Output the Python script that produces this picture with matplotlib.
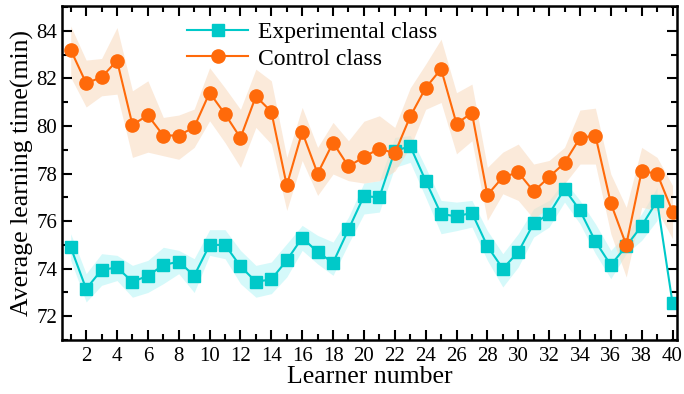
import numpy as np
import matplotlib.pyplot as plt
from matplotlib.ticker import MultipleLocator

plt.rcParams['font.family'] = ['Liberation Serif', 'DejaVu Serif']

# learner numbers 1..40
learners = np.arange(1, 41)

# experimental class: mean and band
exp_mean = [74.9, 73.15, 73.95, 74.05, 73.45, 73.7, 74.15, 74.3, 73.7, 75.0,
            75.0, 74.1, 73.45, 73.55, 74.35, 75.3, 74.7, 74.25, 75.65, 77.05,
            77.0, 78.95, 79.15, 77.7, 76.3, 76.2, 76.35, 74.95, 74.0, 74.7,
            75.9, 76.3, 77.35, 76.45, 75.15, 74.15, 74.95, 75.8, 76.85, 72.55]
exp_upper = [75.47, 73.79, 74.63, 74.56, 74.14, 74.35, 74.9, 74.77, 74.42, 75.64,
             75.64, 74.77, 74.14, 74.28, 75.05, 75.82, 75.4, 75.12, 76.17, 77.6,
             77.7, 79.52, 79.6, 78.26, 76.87, 76.8, 76.87, 75.6, 74.63, 75.47,
             76.52, 76.87, 77.7, 76.87, 75.89, 74.77, 75.47, 76.31, 77.42]
exp_lower = [74.35, 72.6, 73.3, 73.5, 72.8, 73.0, 73.37, 73.79, 73.0, 74.56,
             74.42, 73.37, 72.8, 72.95, 73.65, 74.77, 74.2, 73.72, 75.05, 76.3,
             76.38, 78.26, 78.47, 77.0, 75.47, 75.6, 75.75, 74.35, 73.23, 74.07,
             75.33, 75.75, 76.8, 75.89, 74.63, 73.58, 74.63, 75.19, 76.03]

# control class: mean and band
ctl_mean = [83.2, 81.8, 82.05, 82.75, 80.05, 80.45, 79.6, 79.6, 79.95, 81.4,
            80.5, 79.5, 81.25, 80.6, 77.5, 79.75, 78.0, 79.3, 78.3, 78.7,
            79.05, 78.85, 80.4, 81.6, 82.4, 80.1, 80.55, 77.1, 77.85, 78.05,
            77.25, 77.85, 78.45, 79.5, 79.6, 76.75, 75.0, 78.1, 78.0, 76.4]
ctl_upper = [84.2, 82.77, 82.84, 84.14, 81.48, 81.9, 80.36, 80.46, 80.71, 82.45,
             81.6, 80.7, 82.39, 81.9, 78.68, 80.78, 79.1, 80.15, 79.38, 80.2,
             80.43, 79.94, 81.6, 82.6, 83.65, 81.4, 81.76, 78.26, 78.9, 79.24,
             78.4, 78.55, 79.1, 80.67, 80.75, 77.98, 76.58, 79.1, 78.68, 77.5]
ctl_lower = [82.05, 80.8, 81.27, 81.34, 78.68, 78.9, 78.75, 78.6, 79.1, 80.22,
             79.3, 78.26, 79.94, 79.24, 76.45, 78.55, 77.08, 77.98, 77.7, 77.6,
             77.7, 78.1, 79.1, 80.7, 80.99, 78.83, 79.38, 76.03, 77.15, 76.87,
             76.1, 76.58, 77.57, 78.4, 78.4, 75.47, 73.65, 76.58, 76.45, 75.26]

cyan = '#00C9C9'
orange = '#FF6A0A'

fig = plt.figure(figsize=(6.84, 3.94), dpi=100)
ax = fig.add_axes([0.091, 0.137, 0.899, 0.848])

ax.fill_between(learners[:len(exp_upper)], exp_lower, exp_upper,
                color='#C4F7F8', alpha=0.7, linewidth=0)
ax.fill_between(learners, ctl_lower, ctl_upper,
                color='#F9DCC2', alpha=0.6, linewidth=0)

ax.plot(learners, exp_mean, color=cyan, marker='s', markersize=8.5,
        linewidth=1.5, label='Experimental class')
ax.plot(learners, ctl_mean, color=orange, marker='o', markersize=9.5,
        linewidth=1.5, label='Control class')

ax.set_xlim(0.45, 40.3)
ax.set_ylim(71, 85.05)
ax.xaxis.set_major_locator(MultipleLocator(2))
ax.xaxis.set_minor_locator(MultipleLocator(1))
ax.yaxis.set_major_locator(MultipleLocator(2))
ax.yaxis.set_minor_locator(MultipleLocator(1))
ax.tick_params(which='both', direction='in', top=True, right=True,
               labelsize=15, width=1.5)
ax.tick_params(which='major', length=7)
ax.tick_params(which='minor', length=4)
ax.tick_params(axis='x', pad=5)
for s in ax.spines.values():
    s.set_linewidth(1.8)

ax.set_xlabel('Learner number', fontsize=18.5, labelpad=0)
ax.set_ylabel('Average learning time(min)', fontsize=18.5, labelpad=2)

ax.legend(loc='upper left', bbox_to_anchor=(0.18, 0.995), frameon=False,
          fontsize=17, handlelength=2.6, handletextpad=0.4,
          labelspacing=0.2, borderaxespad=0.2)

fig.savefig('out.png', dpi=100)
